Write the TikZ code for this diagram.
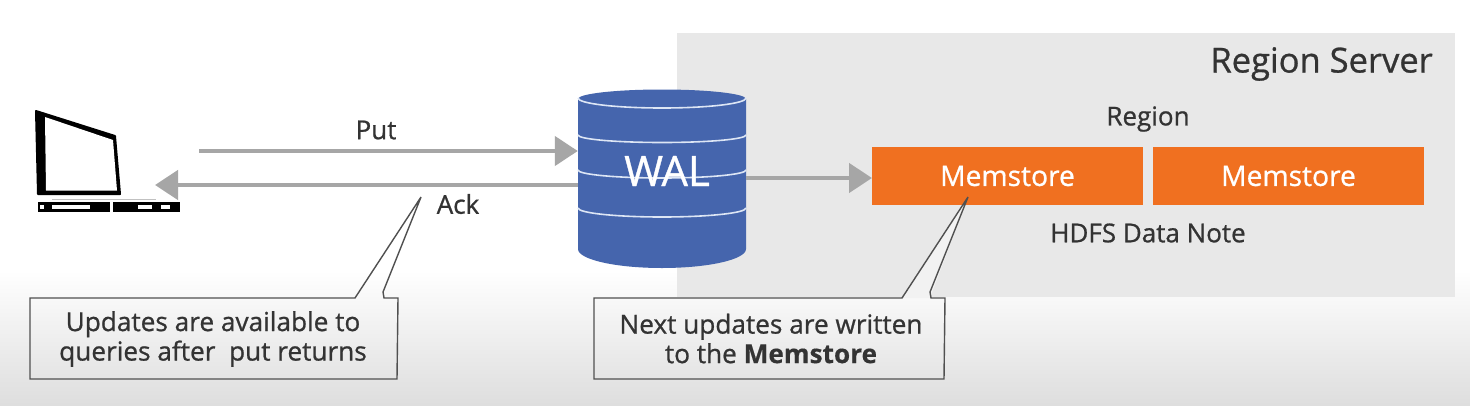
\documentclass[tikz,border=0pt]{standalone}
\usepackage{fontspec}
\setmainfont[FakeBold=0.8,BoldFont={Open Sans Bold},BoldFeatures={FakeBold=0.3}]{Open Sans}
\usetikzlibrary{arrows.meta}
\definecolor{txt}{HTML}{333333}
\definecolor{arr}{HTML}{A6A6A6}
\definecolor{srv}{HTML}{E8E8E8}
\definecolor{blu}{HTML}{4565AD}
\definecolor{org}{HTML}{F07020}
\definecolor{cal}{HTML}{505050}
\definecolor{bandc}{HTML}{DDE6F5}
\tikzset{
  lbl/.style={text=txt,font=\fontsize{#1}{#1}\selectfont,inner sep=0pt},
  lbl/.default=26,
  flow/.style={draw=arr,line width=4.5pt,-{Triangle[length=23pt,width=29pt,fill=arr]}},
  mem/.style={fill=org,minimum width=271pt,minimum height=58pt,inner sep=0pt,text=white,font=\fontsize{28.2}{28.2}\selectfont},
  calbox/.style={draw=cal,line width=1.4pt,line join=miter},
  calnote/.style={text=txt,align=center,font=\fontsize{26.2}{29.5}\selectfont,inner sep=0pt},
  band/.style={draw=bandc,line width=1.6pt}
}
\begin{document}
\begin{tikzpicture}[x=1pt,y=-1pt]
\useasboundingbox (0,0) rectangle (1470,405);
\fill[white] (0,0) rectangle (1470,275);
\shade[top color=white,bottom color=black!13] (0,270) rectangle (1470,405);
\fill[srv] (677,33) rectangle (1455,297);
% laptop
\node[minimum width=145pt,minimum height=105pt,inner sep=0pt] (pc) at (108,160) {};
\fill[black,line join=round,draw=black,line width=2pt] (36,111) -- (115,136) -- (120,194) -- (38,194) -- cycle;
\fill[white] (45,117) -- (113,140) -- (117,190.5) -- (46,190.5) -- cycle;
\fill[black] (38,201.5) rectangle (180,212);
\draw[arr!70,line width=.8pt] (52,199) -- (156,199);
\fill[white] (40,204.5) rectangle (44,209);
\fill[white] (52,204.5) rectangle (90,209);
\fill[white] (110,201) rectangle (113,212);
\fill[white] (138,204.5) rectangle (152,209);
\fill[white] (161,204.5) rectangle (170,209);
% WAL cylinder
\node[minimum width=168pt,minimum height=178pt,inner sep=0pt] (wal) at (662,179) {};
\fill[blu] (578,99) arc[start angle=180,end angle=360,x radius=84,y radius=9.5] -- (746,249) arc[start angle=0,end angle=180,x radius=84,y radius=19] -- cycle;
\draw[band] (578,98) arc[start angle=180,end angle=0,x radius=84,y radius=10];
\draw[band] (578,135) arc[start angle=180,end angle=0,x radius=84,y radius=7.5];
\draw[band] (578,170) arc[start angle=180,end angle=0,x radius=84,y radius=8];
\draw[band] (578,208) arc[start angle=180,end angle=0,x radius=84,y radius=9];
\node[text=white,font=\fontsize{42}{42}\selectfont,inner sep=0pt] (waltext) at (667,171) {WAL};
% memstores
\node[mem] (m1) at (1007.5,176) {Memstore};
\node[mem] (m2) at (1288.5,176) {Memstore};
% labels
\node[lbl=34.5,anchor=east] (rs) at (1433,64) {Region Server};
\node[lbl=26] (region) at (1148,119) {Region};
\node[lbl=26] (hdfs) at (1148,233) {HDFS Data Note};
\node[lbl=26] (put) at (376,130) {Put};
\node[lbl=26] (ack) at (458,204) {Ack};
% arrows
\coordinate (putstart) at (199,151);
\coordinate (ackend) at (155,185);
\coordinate (memin) at (872,178);
\draw[flow] (putstart) -- (wal.west |- putstart);
\draw[flow] (wal.west |- ackend) -- (ackend);
\draw[flow] (wal.east |- memin) -- (memin);
% callouts
\coordinate (tipa) at (421,197);
\coordinate (tipb) at (968,197);
\fill[white!95!black] (tipb) -- (902,298) -- (930,298) -- cycle;
\draw[calbox] (30,298) -- (355,298) -- (tipa) -- (383,292) -- (384,298) -- (398,298) -- (397,379) -- (30,379) -- cycle;
\draw[calbox] (594,298) -- (902,298) -- (tipb) -- (930,292) -- (931,298) -- (945,298) -- (944,379) -- (594,379) -- cycle;
\node[calnote] (n1) at (213,339) {Updates are available to\\queries after\ \ put returns};
\node[calnote] (n2) at (771,338.5) {Next updates are written\\to the \textbf{Memstore}};
\end{tikzpicture}
\end{document}
